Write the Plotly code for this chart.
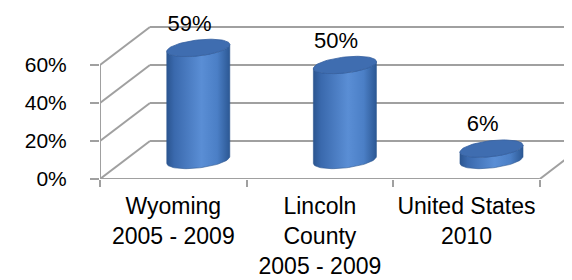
import numpy as np
import plotly.graph_objects as go

# ---- data ----
categories = ["Wyoming<br>2005 - 2009", "Lincoln<br>County<br>2005 - 2009", "United States<br>2010"]
values = [59, 50, 6]
value_labels = ["59%", "50%", "6%"]
y_tick_vals = [0, 20, 40, 60]
y_tick_text = ["0%", "20%", "40%", "60%"]

# ---- pseudo-3D geometry (axis units) ----
DX = 0.341      # depth offset along x (category units)
DY = 20.0       # depth offset along y (percent units)
RX = 0.215      # cylinder radius (x units)
RY = 4.2        # ellipse half-height (y units)
K = 1.8         # perspective tilt of ellipses
XMAX = 480 / 146.6
GRID = "#a0a0a0"
FONT = "Liberation Sans, Arial, sans-serif"

fig = go.Figure()

# ---- walls / floor (frame) ----
shapes = []
line = dict(color=GRID, width=2)
for v in y_tick_vals:
    shapes.append(dict(type="line", xref="x", yref="y", x0=0, y0=v, x1=DX, y1=v + DY, line=line, layer="below"))
    shapes.append(dict(type="line", xref="x", yref="y", x0=DX, y0=v + DY, x1=XMAX + 1, y1=v + DY, line=line, layer="below"))
shapes.append(dict(type="line", xref="x", yref="y", x0=0, y0=0, x1=0, y1=y_tick_vals[-1], line=line, layer="below"))
n = len(categories)
shapes.append(dict(type="line", xref="x", yref="y", x0=0, y0=0, x1=n, y1=0, line=line, layer="below"))
shapes.append(dict(type="line", xref="x", yref="y", x0=n, y0=0, x1=n + DX, y1=DY, line=line, layer="below"))

# ---- cylinders ----
body_scale = [[0, "#2b5590"], [0.12, "#3a69ad"], [0.55, "#5a8ed5"], [0.8, "#4b7fc6"], [1, "#2c5894"]]
base = DY / 2
for i, v in enumerate(values):
    cx = i + 0.5 + DX / 2
    top = base + v
    t_front = np.linspace(np.pi, 2 * np.pi, 40)
    bx = cx + RX * np.cos(t_front)
    by = base + RY * np.sin(t_front) + K * np.cos(t_front)
    tx = cx + RX * np.cos(t_front[::-1])
    ty = top + RY * np.sin(t_front[::-1]) + K * np.cos(t_front[::-1])
    xs = np.concatenate([bx, tx, bx[:1]])
    ys = np.concatenate([by, ty, by[:1]])
    fig.add_trace(go.Scatter(x=xs, y=ys, mode="lines", fill="toself",
                             fillgradient=dict(type="horizontal", colorscale=body_scale),
                             line=dict(width=0.6, color="#2d5891"), hoverinfo="skip", showlegend=False))
    t = np.linspace(0, 2 * np.pi, 80)
    ex = cx + RX * np.cos(t)
    ey = top + RY * np.sin(t) + K * np.cos(t)
    fig.add_trace(go.Scatter(x=ex, y=ey, mode="lines", fill="toself", fillcolor="#3f6db0",
                             line=dict(width=0.8, color="#35609f"), hoverinfo="skip", showlegend=False))

# ---- data labels ----
fig.add_trace(go.Scatter(
    x=[i + 0.5 + DX / 2 - 0.06 for i in range(n)],
    y=[base + v + 12 for v in values],
    mode="text", text=value_labels, textposition="middle center",
    textfont=dict(family=FONT, size=22, color="#000000"),
    hoverinfo="skip", showlegend=False, cliponaxis=False))

fig.update_layout(
    width=572, height=280,
    margin=dict(l=92, r=0, t=0, b=109),
    paper_bgcolor="white", plot_bgcolor="white",
    shapes=shapes,
    xaxis=dict(range=[0, XMAX], showgrid=False, zeroline=False, showline=False,
               tickvals=[i + 0.5 for i in range(n)], ticktext=categories, ticks="",
               tickfont=dict(family=FONT, size=23, color="#000000"),
               ticklabelstandoff=11,
               minor=dict(ticks="outside", ticklen=7, tickwidth=2, tickcolor=GRID, tick0=0, dtick=1)),
    yaxis=dict(range=[0, 90], showgrid=False, zeroline=False, showline=False,
               tickvals=y_tick_vals, ticktext=y_tick_text, ticks="outside", ticklen=9,
               tickwidth=2, tickcolor=GRID, ticklabelstandoff=19,
               tickfont=dict(family=FONT, size=21, color="#000000")),
)

fig.write_html("out.html")
